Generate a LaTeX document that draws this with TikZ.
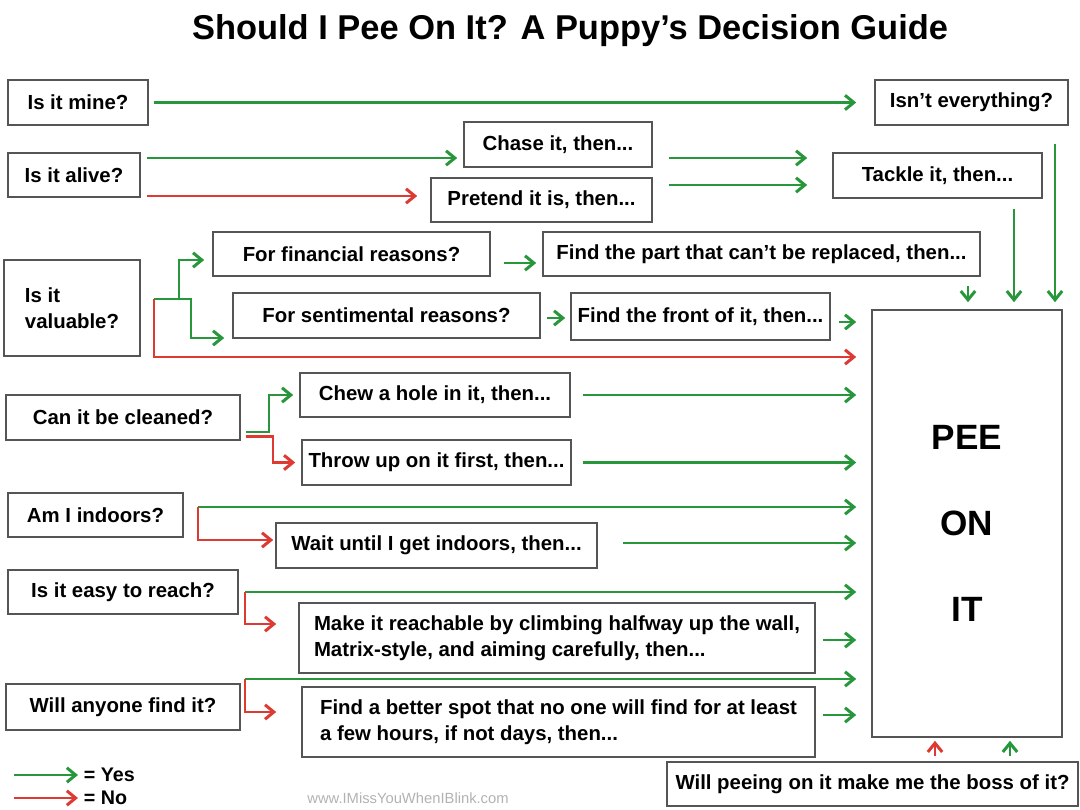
\documentclass[tikz,border=0pt]{standalone}
\usepackage{fontspec}
\setmainfont{Liberation Sans}
\usepackage{xcolor}
\usepackage{tikz}
\usetikzlibrary{arrows.meta}

\definecolor{yesgreen}{RGB}{40,150,58}
\definecolor{nored}{RGB}{222,58,52}
\definecolor{boxline}{RGB}{85,85,85}

\begin{document}
\begin{tikzpicture}[
    x=0.25mm, y=-0.25mm,
    box/.style={rectangle, draw=boxline, line width=0.4mm, fill=white, minimum height=11mm, align=center, inner sep=1mm, font=\bfseries\fontsize{14.5}{18.5}\selectfont},
    yesarrow/.style={-{Straight Barb[length=2.2mm,width=3.6mm,line width=0.75mm]}, line width=0.6mm, yesgreen},
    noarrow/.style={-{Straight Barb[length=2.2mm,width=3.6mm,line width=0.75mm]}, line width=0.6mm, nored}
]
\useasboundingbox (0,0) rectangle (1080,810);

\node[font=\bfseries\fontsize{24.5}{28}\selectfont] (title) at (570,31) {Should I Pee On It? A Puppy’s Decision Guide};

% questions on the left
\node[box, minimum width=35mm, minimum height=11.25mm] (mine) at (78,102.5) {Is it mine?};
\node[box, minimum width=33mm] (alive) at (74,175) {Is it alive?};
\node[box, minimum width=34mm, minimum height=24mm, align=left] (valuable) at (72,308) {Is it\\valuable?};
\node[box, minimum width=58.5mm, minimum height=11.25mm] (cleaned) at (123,417.5) {Can it be cleaned?};
\node[box, minimum width=43.75mm] (indoors) at (95.5,515) {Am I indoors?};
\node[box, minimum width=57.5mm] (reach) at (123,592) {Is it easy to reach?};
\node[box, minimum width=58.5mm, minimum height=11.5mm] (anyone) at (123,707) {Will anyone find it?};

% middle steps
\node[box, minimum width=48.25mm, minimum height=11.25mm] (everything) at (971.5,102.5) {Isn’t everything?};
\node[box, minimum width=47mm, minimum height=11.25mm] (chase) at (558,144.5) {Chase it, then...};
\node[box, minimum width=55.25mm] (pretend) at (541.5,200) {Pretend it is, then...};
\node[box, minimum width=52.25mm, minimum height=11.25mm] (tackle) at (937.5,175.5) {Tackle it, then...};
\node[box, minimum width=69.25mm] (financial) at (351.5,254) {For financial reasons?};
\node[box, minimum width=109.25mm] (findpart) at (761.5,254) {Find the part that can’t be replaced, then...};
\node[box, minimum width=76.75mm, minimum height=11.25mm] (sentimental) at (386.5,315.5) {For sentimental reasons?};
\node[box, minimum width=64.75mm, minimum height=11.75mm] (findfront) at (700.5,316.5) {Find the front of it, then...};
\node[box, minimum width=67.5mm] (chew) at (435,395) {Chew a hole in it, then...};
\node[box, minimum width=67.25mm, minimum height=11.25mm] (throwup) at (436.5,462.5) {Throw up on it first, then...};
\node[box, minimum width=80.25mm, minimum height=11.25mm] (wait) at (436.5,545.5) {Wait until I get indoors, then...};
\node[box, minimum width=129mm, minimum height=17.5mm, align=left] (reachable) at (557,638) {Make it reachable by climbing halfway up the wall,\\Matrix-style, and aiming carefully, then...};
\node[box, minimum width=128.25mm, minimum height=17.5mm, align=left] (betterspot) at (558.5,722) {Find a better spot that no one will find for at least\\a few hours, if not days, then...};

% the goal
\node[box, minimum width=47.5mm, minimum height=106.75mm, font=\bfseries\fontsize{25}{61}\selectfont] (pee) at (967,523.5) {PEE\\ON\\IT};
\node[box, minimum width=102.75mm] (boss) at (872.5,784) {Will peeing on it make me the boss of it?};

% legend and credit
\node[anchor=west, inner sep=1.4mm, font=\bfseries\fontsize{14}{16}\selectfont] (yeskey) at (78,775) {= Yes};
\node[anchor=west, inner sep=1.4mm, font=\bfseries\fontsize{14}{16}\selectfont] (nokey) at (78,798) {= No};
\node[text=gray!60, font=\fontsize{10.5}{12}\selectfont] (site) at (408,798) {www.IMissYouWhenIBlink.com};

\draw[yesarrow] ([shift={(-64,0)}]yeskey.west) -- (yeskey.west);
\draw[noarrow] ([shift={(-64,0)}]nokey.west) -- (nokey.west);

% top rows
\draw[yesarrow, shorten <=1.25mm, shorten >=4.5mm] (mine) -- (mine -| everything.west);
\draw[yesarrow, shorten >=1.5mm] ([shift={(6,-17)}]alive.east) coordinate (a1) -- (a1 -| chase.west);
\draw[noarrow, shorten >=3.25mm] ([shift={(6,21)}]alive.east) coordinate (a2) -- (a2 -| pretend.west);
\draw[yesarrow, shorten >=6.25mm] ([shift={(16,13.5)}]chase.east) coordinate (c1) -- (c1 -| tackle.west);
\draw[yesarrow, shorten >=6.25mm] ([shift={(16,-15)}]pretend.east) coordinate (p1) -- (p1 -| tackle.west);
\draw[yesarrow, shorten >=1.75mm] ([shift={(83.5,18)}]everything.south) coordinate (e1) -- (e1 |- pee.north);
\draw[yesarrow, shorten >=1.75mm] ([shift={(76.5,10)}]tackle.south) coordinate (t1) -- (t1 |- pee.north);
\draw[yesarrow, shorten >=1.75mm] ([shift={(206.5,9)}]findpart.south) coordinate (f1) -- (f1 |- pee.north);

% valuable
\coordinate (v1) at ([shift={(13,-9)}]valuable.east);
\draw[yesarrow, shorten >=2mm] (v1) -- ++(25,0) |- ([shift={(0,6)}]financial.west);
\draw[yesarrow, shorten >=2mm] (v1) -- ++(37,0) |- ([shift={(0,22.5)}]sentimental.west);
\draw[noarrow, shorten >=3.75mm] (v1) -- ++(0,58) coordinate (v2) -- (v2 -| pee.west);
\draw[yesarrow, shorten >=1.5mm] ([shift={(13,9)}]financial.east) coordinate (fi) -- (fi -| findpart.west);
\draw[yesarrow, shorten >=1.25mm] ([shift={(6,2.5)}]sentimental.east) coordinate (se) -- (se -| findfront.west);
\draw[yesarrow, shorten >=3.75mm] ([shift={(8,5.5)}]findfront.east) coordinate (ff) -- (ff -| pee.west);

% cleaned
\draw[yesarrow, shorten >=1.5mm] ([shift={(5,14.5)}]cleaned.east) -- ++(23,0) |- (chew.west);
\draw[noarrow, shorten >=1.5mm] ([shift={(5,19)}]cleaned.east) -- ++(27,0) |- (throwup.west);
\draw[yesarrow, shorten >=3.75mm] ([shift={(12,0)}]chew.east) coordinate (ch) -- (ch -| pee.west);
\draw[yesarrow, shorten >=3.75mm] ([shift={(11,0)}]throwup.east) coordinate (th) -- (th -| pee.west);

% indoors
\coordinate (i1) at ([shift={(14,-8)}]indoors.east);
\draw[yesarrow, shorten >=3.75mm] (i1) -- (i1 -| pee.west);
\draw[noarrow, shorten >=0.5mm] (i1) |- ([shift={(0,-5.5)}]wait.west);
\draw[yesarrow, shorten >=3.75mm] ([shift={(25,-2.5)}]wait.east) coordinate (wa) -- (wa -| pee.west);

% reach
\coordinate (r1) at ([shift={(6,0)}]reach.east);
\draw[yesarrow, shorten >=3.75mm] (r1) -- (r1 -| pee.west);
\draw[noarrow, shorten >=5.5mm] (r1) |- ([shift={(0,-14)}]reachable.west);
\draw[yesarrow, shorten >=3.75mm] ([shift={(7,2)}]reachable.east) coordinate (re) -- (re -| pee.west);

% anyone
\coordinate (w1) at ([shift={(4,-28)}]anyone.east);
\draw[yesarrow, shorten >=3.75mm] (w1) -- (w1 -| pee.west);
\draw[noarrow, shorten >=6.25mm] (w1) |- ([shift={(0,-10)}]betterspot.west);
\draw[yesarrow, shorten >=3.75mm] ([shift={(7,-7)}]betterspot.east) coordinate (bs) -- (bs -| pee.west);

% boss
\draw[noarrow, shorten >=0.75mm] ([shift={(62.5,-5)}]boss.north) coordinate (b1) -- (b1 |- pee.south);
\draw[yesarrow, shorten >=0.75mm] ([shift={(137.5,-5)}]boss.north) coordinate (b2) -- (b2 |- pee.south);

\end{tikzpicture}
\end{document}
